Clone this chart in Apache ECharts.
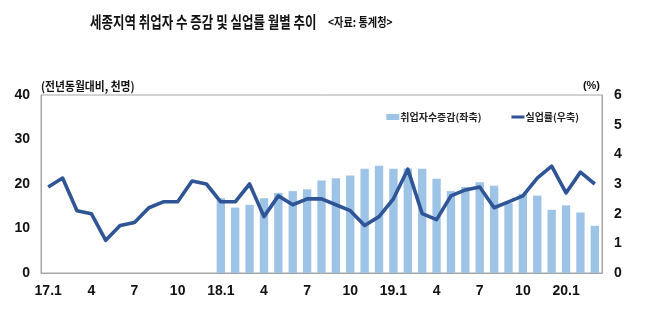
<!DOCTYPE html>
<html>
<head>
<meta charset="utf-8">
<script src="https://cdn.jsdelivr.net/npm/echarts@6/dist/echarts.min.js"></script>
<style>
  html, body { margin: 0; padding: 0; background: #ffffff; }
  #chart { width: 648px; height: 322px; }
</style>
</head>
<body>
<div id="chart"></div>
<script>
// Monthly categories, Jan 2017 – Mar 2020
const categories = [
  '17.1','17.2','17.3','17.4','17.5','17.6','17.7','17.8','17.9','17.10','17.11','17.12',
  '18.1','18.2','18.3','18.4','18.5','18.6','18.7','18.8','18.9','18.10','18.11','18.12',
  '19.1','19.2','19.3','19.4','19.5','19.6','19.7','19.8','19.9','19.10','19.11','19.12',
  '20.1','20.2','20.3'
];

// Year-on-year change in employed persons (thousand), left axis; no bars for 2017
const employmentChange = [
  null, null, null, null, null, null, null, null, null, null, null, null,
  16.8, 14.7, 15.3, 16.8, 18.0, 18.4, 18.8, 20.8, 21.3, 21.9, 23.4, 24.1,
  23.4, 23.5, 23.4, 21.2, 18.4, 19.3, 20.4, 19.6, 15.7, 17.8, 17.4, 14.2,
  15.2, 13.6, 10.6
];

// Unemployment rate (%), right axis
const unemploymentRate = [
  2.9, 3.2, 2.1, 2.0, 1.1, 1.6, 1.7, 2.2, 2.4, 2.4, 3.1, 3.0,
  2.4, 2.4, 3.0, 1.9, 2.6, 2.3, 2.5, 2.5, 2.3, 2.1, 1.6, 1.9,
  2.5, 3.5, 2.0, 1.8, 2.6, 2.8, 2.9, 2.2, 2.4, 2.6, 3.2, 3.6,
  2.7, 3.4, 3.0
];

const leftAxisRange = [0, 40, 10];
const rightAxisRange = [0, 6, 1];

const seriesNames = ['취업자수증감(좌축)', '실업률(우축)'];
const titleText = '세종지역 취업자 수 증감 및 실업률 월별 추이';
const sourceText = '<자료: 통계청>';
const leftUnit = '(전년동월대비, 천명)';
const rightUnit = '(%)';

// January shows the year prefix, other months only the month number
function tickLabel(value) {
  const parts = value.split('.');
  return parts[1] === '1' ? value : parts[1];
}

const KR = '"Noto Sans CJK KR", "Noto Sans", sans-serif';
const NUM = '"Liberation Sans", Arial, sans-serif';
const frameColor = '#a6a6a6';
const barColor = '#9dc3e6';
const lineColor = '#2f5597';
const labelStyle = { color: '#111', fontSize: 14, fontWeight: 'bold', fontFamily: NUM };

// Legend swatch for the line: a thin horizontal band centred in the icon box
const lineSwatch = 'path://M0,0 L13,0 L0,0 Z M0,6 L13,6 L0,6 Z M0,1.5 L13,1.5 L13,4.5 L0,4.5 Z';

const chart = echarts.init(document.getElementById('chart'), null, { renderer: 'canvas' });

chart.setOption({
  backgroundColor: '#ffffff',
  animation: false,
  grid: {
    left: 41, right: 46, top: 95, bottom: 49,
    show: true, borderColor: frameColor, borderWidth: 1, backgroundColor: 'transparent'
  },
  legend: {
    right: 64, top: 107,
    itemWidth: 13, itemHeight: 6, itemGap: 30,
    data: [
      { name: seriesNames[0], icon: 'rect' },
      { name: seriesNames[1], icon: lineSwatch }
    ],
    textStyle: { color: '#222', fontSize: 10, fontWeight: 'bold', fontFamily: KR, padding: [0, 0, 0, -4] }
  },
  xAxis: {
    type: 'category',
    data: categories,
    boundaryGap: true,
    axisLine: { lineStyle: { color: frameColor, width: 1 } },
    axisTick: { show: false },
    axisLabel: Object.assign({ interval: 2, margin: 11, formatter: tickLabel }, labelStyle)
  },
  yAxis: [
    {
      type: 'value',
      min: leftAxisRange[0], max: leftAxisRange[1], interval: leftAxisRange[2],
      axisLine: { show: true, lineStyle: { color: frameColor, width: 1 } },
      axisTick: { show: false },
      splitLine: { show: false },
      axisLabel: Object.assign({ margin: 11 }, labelStyle)
    },
    {
      type: 'value',
      min: rightAxisRange[0], max: rightAxisRange[1], interval: rightAxisRange[2],
      position: 'right',
      axisLine: { show: true, lineStyle: { color: frameColor, width: 1 } },
      axisTick: { show: false },
      splitLine: { show: false },
      axisLabel: Object.assign({ margin: 12 }, labelStyle)
    }
  ],
  series: [
    {
      name: seriesNames[0],
      type: 'bar',
      yAxisIndex: 0,
      data: employmentChange,
      barWidth: '58%',
      itemStyle: { color: barColor },
      z: 2
    },
    {
      name: seriesNames[1],
      type: 'line',
      yAxisIndex: 1,
      data: unemploymentRate,
      symbol: 'none',
      lineStyle: { color: lineColor, width: 3.6, join: 'round' },
      itemStyle: { color: lineColor },
      z: 3
    }
  ],
  graphic: [
    {
      type: 'text', x: 90, y: 22, scaleX: 0.78,
      style: { text: titleText, font: 'bold 16px ' + KR, fill: '#111', verticalAlign: 'middle', align: 'left' }
    },
    {
      type: 'text', x: 328, y: 22, scaleX: 0.85,
      style: { text: sourceText, font: 'bold 12px ' + KR, fill: '#111', verticalAlign: 'middle', align: 'left' }
    },
    {
      type: 'text', x: 41, y: 86, scaleX: 0.9,
      style: { text: leftUnit, font: 'bold 12px ' + KR, fill: '#111', verticalAlign: 'middle', align: 'left' }
    },
    {
      type: 'text', x: 600, y: 86,
      style: { text: rightUnit, font: 'bold 11px ' + NUM, fill: '#111', verticalAlign: 'middle', align: 'right' }
    }
  ]
});
</script>
</body>
</html>
